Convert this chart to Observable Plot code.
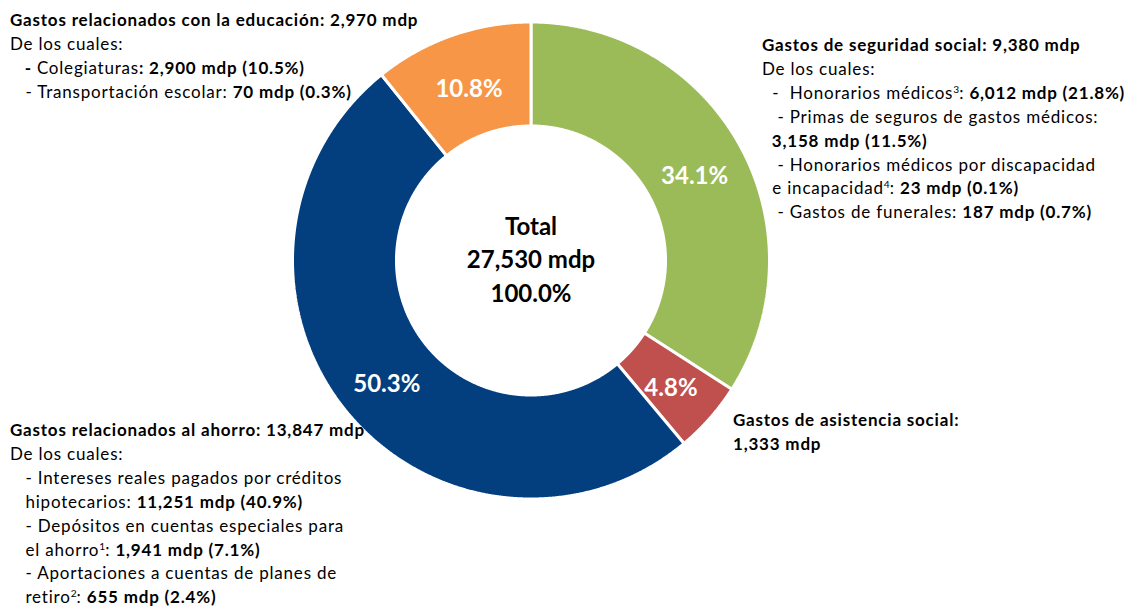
<!DOCTYPE html>
<html><head><meta charset="utf-8">
<script src="https://cdn.jsdelivr.net/npm/d3@7"></script>
<script src="https://cdn.jsdelivr.net/npm/@observablehq/plot@0.6"></script>
<style>
body{margin:0;background:#fff;}
#wrap{position:relative;width:1127px;height:606px;font-family:Lato, sans-serif;color:#000;overflow:hidden;}
#wrap svg{position:absolute;left:0;top:0;}
.note{position:absolute;font-size:17px;letter-spacing:0.8px;line-height:23.9px;white-space:pre;}
.note b{font-weight:700;}
.note sup{font-size:0.6em;vertical-align:0.55em;line-height:0;letter-spacing:0;}
</style></head><body><div id="wrap"></div>
<script>
// ---- data ----
const categories = ["Gastos de seguridad social","Gastos de asistencia social","Gastos relacionados al ahorro","Gastos relacionados con la educación"];
const values = [9380, 1333, 13847, 2970];
const colors = ["#9BBB59", "#C0504D", "#033F7E", "#F79646"];
const centerTitle = "Total";
const unit = "mdp";

// annotation blocks: lines of [text, style] with style b = bold, r = regular, s = superscript
const noteEducacion = [
  [["Gastos relacionados con la educación: 2,970 mdp","b"]],
  [["De los cuales:","r"]],
  [["   - ","b"],["Colegiaturas","r"],[": 2,900 mdp (10.5%)","b"]],
  [["   - Transportación escolar: ","r"],["70 mdp (0.3%)","b"]]
];
const noteSeguridad = [
  [["Gastos de seguridad social: 9,380 mdp","b"]],
  [["De los cuales:","r"]],
  [["  -  Honorarios médicos","r"],["3","s"],[": ","r"],["6,012 mdp (21.8%)","b"]],
  [["   - Primas de seguros de gastos médicos:","r"]],
  [["  3,158 mdp (11.5%)","b"]],
  [["   - Honorarios médicos por discapacidad","r"]],
  [["  e incapacidad","r"],["4","s"],[": ","r"],["23 mdp (0.1%)","b"]],
  [["   - Gastos de funerales: ","r"],["187 mdp (0.7%)","b"]]
];
const noteAsistencia = [
  [["Gastos de asistencia social:","b"]],
  [["1,333 mdp","b"]]
];
const noteAhorro = [
  [["Gastos relacionados al ahorro: 13,847 mdp","b"]],
  [["De los cuales:","r"]],
  [["   - Intereses reales pagados por créditos","r"]],
  [["   hipotecarios: ","r"],["11,251 mdp (40.9%)","b"]],
  [["   - Depósitos en cuentas especiales para","r"]],
  [["   el ahorro","r"],["1","s"],[": ","r"],["1,941 mdp (7.1%)","b"]],
  [["   - Aportaciones a cuentas de planes de","r"]],
  [["   retiro","r"],["2","s"],[": ","r"],["655 mdp (2.4%)","b"]]
];

// ---- chart ----
const W = 1127, H = 606;
const cx = 530.5, cy = 260, rad = 238.5, innerRatio = 0.564;
const total = d3.sum(values);
const arcs = d3.pie().sort(null).value(d => d)(values);

const pts = [];
arcs.forEach((a, i) => {
  const cat = categories[i];
  const n = Math.max(4, Math.ceil((a.endAngle - a.startAngle) / 0.004));
  const outer = [], inner = [];
  for (let k = 0; k <= n; k++) {
    const t = a.startAngle + (a.endAngle - a.startAngle) * k / n;
    outer.push({cat, x: Math.sin(t), y: Math.cos(t)});
    inner.push({cat, x: innerRatio * Math.sin(t), y: innerRatio * Math.cos(t)});
  }
  pts.push(...outer, ...inner.reverse(), outer[0]);
});

const midR = (1 + innerRatio) / 2;
const labels = arcs.map((a, i) => {
  const t = (a.startAngle + a.endAngle) / 2;
  return {x: midR * Math.sin(t), y: midR * Math.cos(t), text: d3.format(".1%")(values[i] / total)};
});

const chart = Plot.plot({
  width: W, height: H, margin: 0,
  style: {fontFamily: "Lato, sans-serif", background: "transparent"},
  x: {domain: [-cx / rad, (W - cx) / rad], axis: null},
  y: {domain: [-(H - cy) / rad, cy / rad], axis: null},
  color: {domain: categories, range: colors},
  marks: [
    Plot.line(pts, {x: "x", y: "y", z: "cat", fill: "cat", stroke: "white", strokeWidth: 3, strokeLinejoin: "miter"}),
    Plot.text(labels, {x: "x", y: "y", text: "text", fill: "white", fontSize: 24, fontWeight: "bold", dy: 5}),
    Plot.text([total], {x: () => 0, y: () => 0, text: d => `${centerTitle}\n${d3.format(",")(d)} ${unit}\n${d3.format(".1%")(d / total)}`,
      fill: "black", fontSize: 24, fontWeight: "bold", lineHeight: 1.4, dy: -3})
  ]
});
const wrap = document.getElementById("wrap");
wrap.appendChild(chart);

function addNote(lines, left, top) {
  const div = document.createElement("div");
  div.className = "note";
  div.style.left = left + "px";
  div.style.top = top + "px";
  lines.forEach(line => {
    const ld = document.createElement("div");
    line.forEach(([txt, st]) => {
      const el = document.createElement(st === "b" ? "b" : st === "s" ? "sup" : "span");
      el.textContent = txt;
      ld.appendChild(el);
    });
    div.appendChild(ld);
  });
  wrap.appendChild(div);
}
addNote(noteEducacion, 10, 8);
addNote(noteSeguridad, 762, 33);
addNote(noteAsistencia, 733, 408);
addNote(noteAhorro, 10, 418);
</script></body></html>
